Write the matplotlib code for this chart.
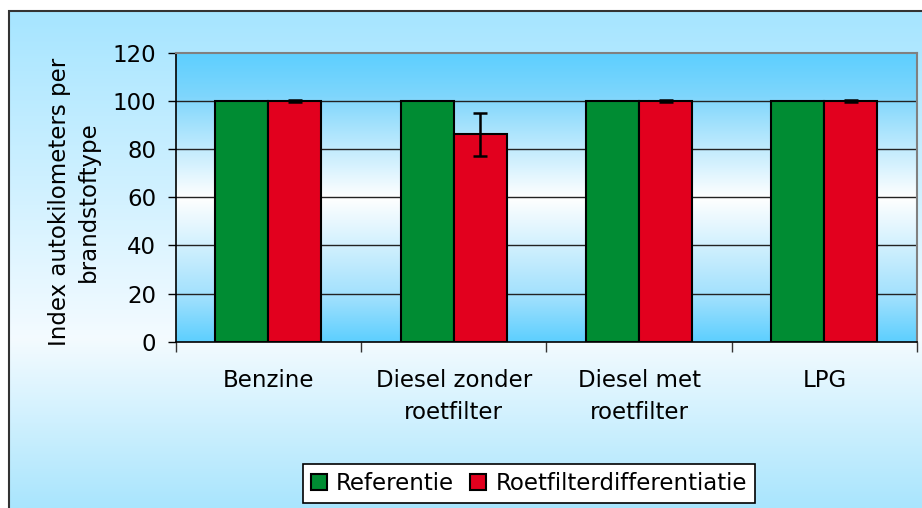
import numpy as np
import matplotlib
matplotlib.use("Agg")
import matplotlib.pyplot as plt
from matplotlib.colors import LinearSegmentedColormap
from matplotlib.patches import Rectangle

plt.rcParams['font.family'] = ['DejaVu Sans']

categories = ["Benzine", "Diesel zonder\nroetfilter", "Diesel met\nroetfilter", "LPG"]
referentie = [100, 100, 100, 100]
roetfilter = [100, 86.2, 100, 100]
roetfilter_err = [0.4, 9.0, 0.4, 0.4]
series_names = ["Referentie", "Roetfilterdifferentiatie"]
yticks = [0, 20, 40, 60, 80, 100, 120]

FS = 16.5
W, H = 922, 508
fig = plt.figure(figsize=(W/100, H/100), dpi=100)
fig.patch.set_facecolor("white")

# figure background gradient inside border
bg = fig.add_axes([9/W, 0, 1 - 9/W, 1 - 11/H], zorder=-10)
bg_cmap = LinearSegmentedColormap.from_list("bg", [(0, "#a6e5ff"), (0.66, "#f4fbff"), (1.0, "#a9e5fd")])
grad = np.linspace(0, 1, 256).reshape(-1, 1)
bg.imshow(grad, aspect="auto", cmap=bg_cmap, extent=[0, 1, 0, 1], origin="upper")
bg.set_xlim(0, 1); bg.set_ylim(0, 1)
bg.set_axis_off()
fig.add_artist(Rectangle((9/W, -0.01), 1.0, 1 - 11/H + 0.01, transform=fig.transFigure,
                         fill=False, edgecolor="#333333", lw=1.5, zorder=-5))

left, right = 175.7/W, 917/W
bottom, top = (H - 341.7)/H, (H - 53)/H
ax = fig.add_axes([left, bottom, right - left, top - bottom])
ax.set_xlim(-0.5, 3.5)
ax.set_ylim(0, 120)

pa_cmap = LinearSegmentedColormap.from_list("pa", [(0, "#5dcfff"), (0.15, "#7fd6fc"), (0.5, "#ffffff"), (0.85, "#9fe0fd"), (1.0, "#5dcfff")])
ax.imshow(grad, aspect="auto", cmap=pa_cmap, extent=[-0.5, 3.5, 0, 120], origin="upper", zorder=0)

for y in yticks[1:-1]:
    ax.axhline(y, color="#222222", lw=1.0, zorder=1)

x = np.arange(len(categories))
bw = 0.286
ax.bar(x - bw/2, referentie, bw, color="#008c33", edgecolor="black", lw=1.5, zorder=2, label=series_names[0])
ax.bar(x + bw/2, roetfilter, bw, color="#e2001e", edgecolor="black", lw=1.5, zorder=2, label=series_names[1])
ax.errorbar(x + bw/2, roetfilter, yerr=roetfilter_err, fmt="none", ecolor="black",
            elinewidth=1.8, capsize=5, capthick=1.8, zorder=3)

ax.set_yticks(yticks)
ax.set_yticklabels([str(v) for v in yticks], fontsize=FS)
ax.tick_params(axis="y", length=6, width=1, pad=8, direction="out")
ax.set_xticks(x)
ax.set_xticklabels(categories, fontsize=FS, linespacing=1.5)
ax.tick_params(axis="x", which="major", length=0, pad=20)
ax.set_xticks(np.arange(-0.5, 4.0, 1.0), minor=True)
ax.tick_params(axis="x", which="minor", length=7, width=1, direction="out", color="#333333")

for s in ["left", "bottom"]:
    ax.spines[s].set_color("black"); ax.spines[s].set_linewidth(1.2)
for s in ["top", "right"]:
    ax.spines[s].set_color("#808080"); ax.spines[s].set_linewidth(1.5)

fig.text(74/W, 1 - 202/H, "Index autokilometers per\nbrandstoftype", rotation=90,
         ha="center", va="center", fontsize=FS, multialignment="center", linespacing=1.3)

leg = fig.legend(loc="upper left", bbox_to_anchor=(303/W, 1 - 464/H), ncol=2, fontsize=FS,
                 frameon=True, fancybox=False, edgecolor="black", facecolor="white", framealpha=1,
                 handlelength=0.7, handleheight=0.7, handletextpad=0.4, columnspacing=0.7,
                 borderpad=0.35, borderaxespad=0)
leg.get_frame().set_linewidth(1.2)

fig.savefig("out.png", dpi=100)
